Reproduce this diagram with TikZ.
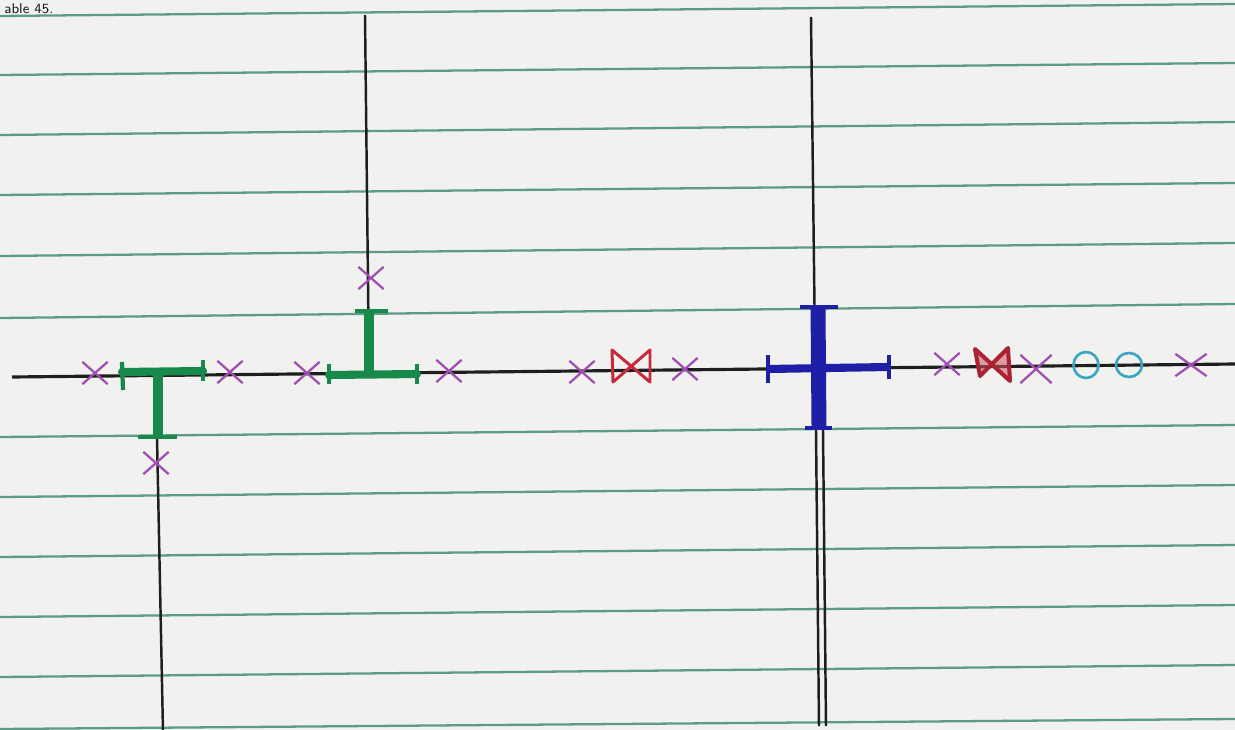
\documentclass[tikz,border=0pt]{standalone}
\usetikzlibrary{shapes.misc}
\definecolor{paper}{HTML}{F1F1EF}
\definecolor{rule}{HTML}{5E9A88}
\definecolor{ink}{HTML}{1E1E1E}
\definecolor{purp}{HTML}{A050B2}
\definecolor{grn}{HTML}{17894A}
\definecolor{blu}{HTML}{1E1EA6}
\definecolor{redi}{HTML}{C8283C}
\definecolor{cyn}{HTML}{3AA6C4}
\tikzset{
  ruled/.style={draw=rule, line width=1.3pt},
  inkline/.style={draw=ink, line width=1.4pt},
  xm/.style={cross out, draw=purp, line width=1.3pt, inner sep=0pt, minimum width=0.46cm, minimum height=0.40cm},
  gbar/.style={draw=grn, line width=4.6pt, line cap=round},
  gstem/.style={draw=grn, line width=5.4pt},
  gtick/.style={draw=grn, line width=2.4pt},
  bbar/.style={draw=blu, line width=4.6pt},
  bstem/.style={draw=blu, line width=8.5pt},
  btick/.style={draw=blu, line width=2.4pt},
  bow/.style={draw=redi, line width=1.7pt, line join=round},
  ring/.style={draw=cyn, line width=1.5pt},
}
\begin{document}
\begin{tikzpicture}[x=0.02cm, y=-0.02cm]
\useasboundingbox (0,0) rectangle (1235,730);
\clip (0,0) rectangle (1235,730);
\fill[paper] (0,0) rectangle (1235,730);
% heading at the top edge
\node[anchor=base west, inner sep=0pt, text=ink] (title) at (4,13) {\fontsize{8}{8}\selectfont\sffamily able 45.};
% ruled lines of the paper
\foreach \yl/\yr in {16/4, 75/63, 135/122, 195/183, 256/243, 318/304, 437/425, 497/485, 557/545, 617/605, 677/665, 729/719}
  \draw[ruled] (0,\yl) -- (1235,\yr);
% axis
\coordinate (axL) at (12,377);
\coordinate (axR) at (1235,364);
\draw[draw=ink, line width=1.8pt] (axL) -- (axR);
% vertical black lines
\coordinate (v1t) at (157,437); \coordinate (v1b) at (163,732);
\draw[inkline] (v1t) -- (v1b);
\coordinate (v2t) at (365,15); \coordinate (v2b) at (369,372);
\draw[inkline] (v2t) -- (v2b);
\coordinate (v3t) at (811,17); \coordinate (v3m) at (816,430);
\coordinate (v3b) at (819,726); \coordinate (v3c) at (826,726); \coordinate (v3d) at (823,430);
\draw[inkline] (v3t) -- (v3m) -- (v3b);
\draw[inkline] (v3d) -- (v3c);
% green T below the axis
\draw[gbar] (122,372) -- (203,371);
\draw[gtick] (122,362) -- (123,390);
\draw[gtick] (203,360) -- (203,381);
\draw[gstem] (158,372) -- (158,437);
\draw[gtick] (138,437) -- (177,437);
% green T above the axis
\draw[gbar] (329,375) -- (417,374);
\draw[gtick] (329,364) -- (329,384);
\draw[gtick] (417,364) -- (417,384);
\draw[gstem] (369,374) -- (369,311);
\draw[gtick] (355,311) -- (388,311);
% blue cross
\draw[bbar] (768,369) -- (888,367);
\draw[btick] (768,355) -- (768,383);
\draw[btick] (889,355) -- (889,379);
\draw[bstem] (818,307) -- (819,428);
\draw[btick] (800,307) -- (838,307);
\draw[btick] (805,428) -- (832,428);
% purple crosses
\node[xm] (x1) at (95,373) {};
\node[xm] (x2) at (230,372) {};
\node[xm] (x3) at (156,463) {};
\node[xm] (x4) at (307,373) {};
\node[xm] (x5) at (371,278) {};
\node[xm] (x6) at (449,371) {};
\node[xm] (x7) at (582,372) {};
\node[xm] (x8) at (685,369) {};
\node[xm] (x9) at (947,364) {};
\node[xm, minimum width=0.58cm, minimum height=0.52cm] (x10) at (1036,369) {};
\node[xm, minimum width=0.58cm] (x11) at (1191,365) {};
% red bowties
\draw[bow] (612,350) -- (613,382) -- (650,350) -- (650,382) -- cycle;
\draw[bow, fill=redi!80, fill opacity=0.55, line width=2.3pt, draw=redi!85!black] (975,349) -- (980,376) -- (1008,348) -- (1010,381) -- cycle;
% cyan circles
\draw[ring] (1086,365) ellipse [x radius=12.5, y radius=13];
\draw[ring] (1129,365) ellipse [x radius=13, y radius=12];
\end{tikzpicture}
\end{document}
